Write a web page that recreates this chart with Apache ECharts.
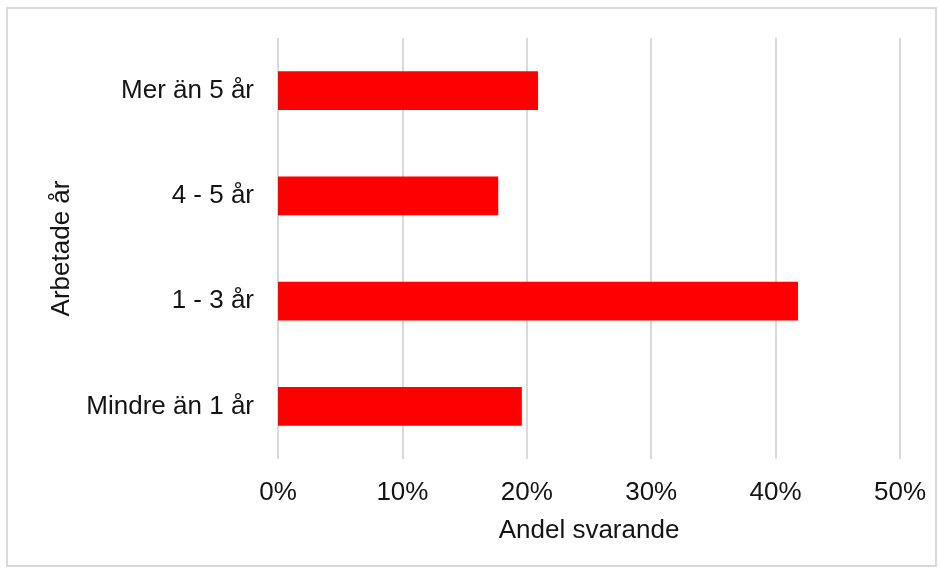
<!DOCTYPE html>
<html>
<head>
<meta charset="utf-8">
<script src="https://cdn.jsdelivr.net/npm/echarts@6/dist/echarts.min.js"></script>
<style>
  html, body { margin: 0; padding: 0; background: #fff; }
  #chart-box { width: 940px; height: 571px; }
</style>
</head>
<body>
<div id="chart-box"></div>
<script>
// categories bottom -> top (category axis starts at the bottom)
const categories = ["Mindre än 1 år", "1 - 3 år", "4 - 5 år", "Mer än 5 år"];
const shares = [19.6, 41.8, 17.7, 20.9];
const xTicks = [0, 10, 20, 30, 40, 50];

const chart = echarts.init(document.getElementById("chart-box"));
const font = "Liberation Sans, Arial, sans-serif";
const textColor = "#141414";

const option = {
  animation: false,
  backgroundColor: "#fff",
  graphic: [
    {
      type: "rect",
      shape: { x: 7, y: 8, width: 929, height: 558 },
      style: { fill: "none", stroke: "#d9d9d9", lineWidth: 2 },
      silent: true,
    },
  ],
  grid: {
    left: 278,
    right: 40,
    top: 38,
    bottom: 112,
  },
  xAxis: {
    type: "value",
    min: xTicks[0],
    max: xTicks[xTicks.length - 1],
    interval: 10,
    name: "Andel svarande",
    nameLocation: "middle",
    nameGap: 59,
    nameTextStyle: { fontFamily: font, fontSize: 26, color: textColor },
    axisLine: { show: false },
    axisTick: { show: false },
    axisLabel: {
      formatter: "{value}%",
      margin: 21,
      fontFamily: font,
      fontSize: 26,
      color: textColor,
    },
    splitLine: { lineStyle: { color: "#d9d9d9", width: 2 } },
  },
  yAxis: {
    type: "category",
    data: categories,
    name: "Arbetade år",
    nameLocation: "middle",
    nameRotate: 90,
    nameGap: 203,
    nameTextStyle: { fontFamily: font, fontSize: 26, color: textColor },
    axisLine: { show: false },
    axisTick: { show: false },
    axisLabel: {
      margin: 24,
      fontFamily: font,
      fontSize: 26,
      color: textColor,
    },
  },
  series: [
    {
      type: "bar",
      data: shares,
      barWidth: "37%",
      itemStyle: { color: "#ff0000" },
    },
  ],
};

chart.setOption(option);
</script>
</body>
</html>
